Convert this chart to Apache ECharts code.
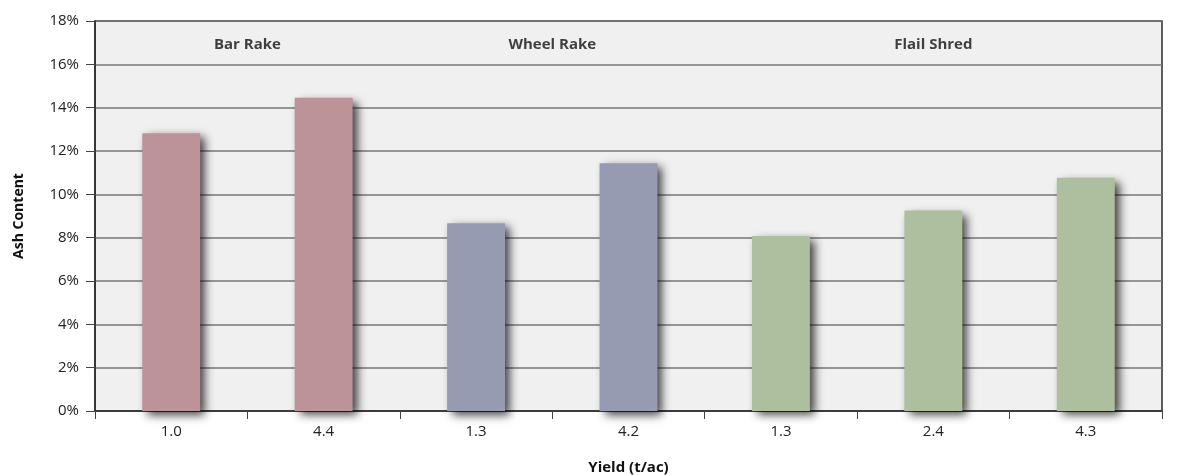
<!DOCTYPE html>
<html>
<head>
<meta charset="utf-8">
<script src="https://cdn.jsdelivr.net/npm/echarts@6/dist/echarts.min.js"></script>
<style>html,body{margin:0;padding:0;background:#fff}#c{width:1178px;height:475px}</style>
</head>
<body>
<div id="c"></div>
<script>
const categories = ['1.0', '4.4', '1.3', '4.2', '1.3', '2.4', '4.3'];
const ashContent = [12.82, 14.46, 8.66, 11.43, 8.08, 9.25, 10.77];
const methodOfBar = [0, 0, 1, 1, 2, 2, 2];
const methods = ['Bar Rake', 'Wheel Rake', 'Flail Shred'];
const methodCenters = [1, 3, 5.5];   // centre of each group in category units
const methodColors = ['#bc9398', '#979bb1', '#aebf9f'];
const yTicks = [0, 2, 4, 6, 8, 10, 12, 14, 16, 18];

const FONT = '"Open Sans", "Liberation Sans", sans-serif';
const chart = echarts.init(document.getElementById('c'), null, {renderer: 'canvas'});
chart.setOption({
  animation: false,
  grid: {left: 95, right: 16, top: 21, bottom: 64, show: true, outerBoundsMode: 'none',
         containLabel: false,
         backgroundColor: '#f0f0f0', borderColor: '#2b2b2b', borderWidth: 1.5},
  xAxis: [{
    type: 'category', data: categories, boundaryGap: true,
    name: 'Yield (t/ac)', nameLocation: 'middle', nameGap: 49,
    nameTextStyle: {fontFamily: FONT, fontWeight: 'bold', fontSize: 15, color: '#111'},
    axisLine: {show: true, lineStyle: {color: '#2b2b2b', width: 1.5}},
    axisTick: {show: true, length: 8, lineStyle: {color: '#444', width: 1}},
    axisLabel: {fontFamily: FONT, fontSize: 15, color: '#222', margin: 13}
  }, {
    type: 'value', min: 0, max: 7, show: false, position: 'top'
  }],
  yAxis: {
    type: 'value', min: 0, max: yTicks[yTicks.length - 1], interval: yTicks[1] - yTicks[0],
    name: 'Ash Content', nameLocation: 'middle', nameGap: 69,
    nameTextStyle: {fontFamily: FONT, fontWeight: 'bold', fontSize: 14, color: '#111'},
    axisLine: {show: true, lineStyle: {color: '#2b2b2b', width: 1.5}},
    axisTick: {show: true, length: 9, lineStyle: {color: '#444', width: 1}},
    axisLabel: {fontFamily: FONT, fontSize: 15, color: '#222', margin: 16,
                formatter: v => v + '%'},
    splitLine: {show: true, lineStyle: {color: '#777', width: 1.5}}
  },
  series: [{
    type: 'bar', xAxisIndex: 0, barWidth: '38%',
    data: ashContent.map((v, i) => ({
      value: v,
      itemStyle: {color: methodColors[methodOfBar[i]]}
    })),
    itemStyle: {shadowColor: 'rgba(0,0,0,0.75)', shadowBlur: 9,
                shadowOffsetX: 5, shadowOffsetY: 4}
  }, {
    type: 'scatter', xAxisIndex: 1, symbolSize: 0, silent: true,
    data: methods.map((m, i) => [methodCenters[i], 16.9, m]),
    label: {show: true, position: 'inside', formatter: p => p.data[2],
            fontFamily: FONT, fontWeight: 'bold', fontSize: 15, color: '#111'}
  }]
});
</script>
</body>
</html>
